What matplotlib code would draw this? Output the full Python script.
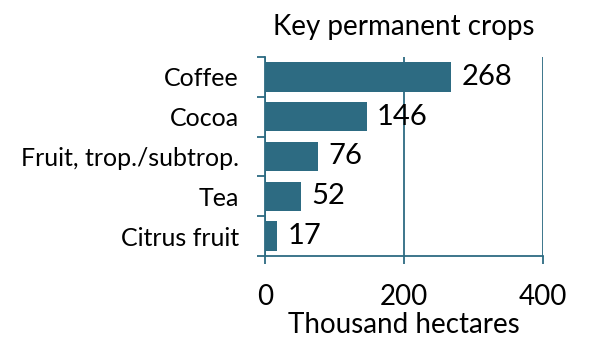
import matplotlib
matplotlib.use('Agg')
import matplotlib.pyplot as plt
import numpy as np

# Данные
crops = ['Coffee', 'Cocoa', 'Fruit, trop./subtrop.', 'Tea', 'Citrus fruit']
areas = [268, 146, 76, 52, 17]
xticks = [0, 200, 400]

col = '#2d6b82'
plt.rcParams['font.family'] = ['Lato', 'DejaVu Sans']

fig = plt.figure(figsize=(6, 3.54), dpi=100)
ax = fig.add_axes([0.442, 0.277, 0.463, 0.562])

y = np.arange(len(crops))
ax.barh(y, areas, height=0.74, color=col, zorder=3)
for yi, v in zip(y, areas):
    ax.text(v + 15, yi, str(v), va='center', ha='left', fontsize=21, zorder=4)

ax.set_xlim(0, 400)
ax.set_ylim(len(crops) - 0.5, -0.5)
ax.set_xticks(xticks)
ax.set_xticklabels([str(t) for t in xticks], fontsize=20)
ax.set_yticks(y)
ax.set_yticklabels(crops, fontsize=18)
ax.set_yticks(np.arange(len(crops) + 1) - 0.5, minor=True)
ax.tick_params(axis='y', which='major', length=0, pad=19)
ax.tick_params(axis='y', which='minor', length=6, width=1.3, color=col, direction='out')
ax.tick_params(axis='x', length=6, width=1.3, color=col, pad=14)

for s in ['top', 'right']:
    ax.spines[s].set_visible(False)
for s in ['left', 'bottom']:
    ax.spines[s].set_color(col)
    ax.spines[s].set_linewidth(1.3)

ax.xaxis.grid(True, color=col, linewidth=1.3, zorder=1)
ax.set_xlabel('Thousand hectares', fontsize=20, labelpad=2)
ax.set_title('Key permanent crops', fontsize=20, pad=16)

fig.savefig('out.png', dpi=100)
